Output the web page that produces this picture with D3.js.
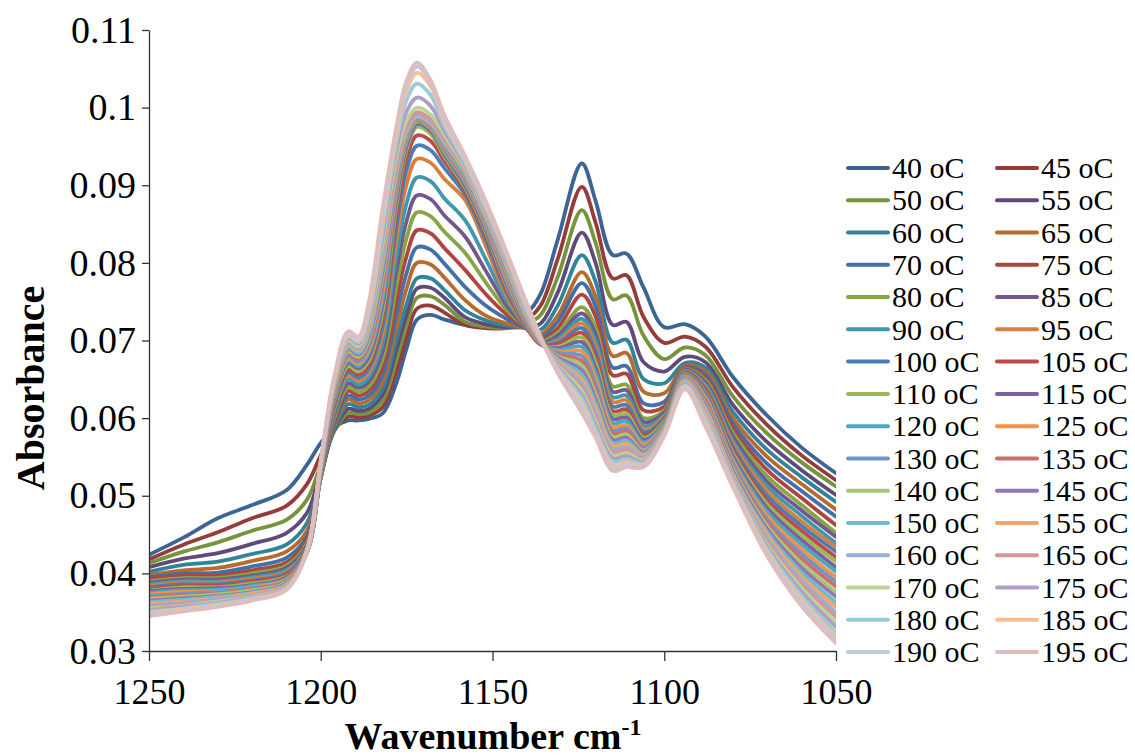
<!DOCTYPE html>
<html>
<head>
<meta charset="utf-8">
<script src="https://cdn.jsdelivr.net/npm/d3@7"></script>
<style>
  body { margin: 0; background: #fff; }
  svg { display: block; }
  text { font-family: "Liberation Serif", "Times New Roman", serif; fill: #000; }
</style>
</head>
<body>
<svg id="chart" width="1135" height="756"></svg>
<script>
// Wavenumbers (cm-1) at which each spectrum is sampled, high to low
const wavenumbers = [1250, 1240, 1230, 1220, 1210, 1204, 1200, 1196, 1192, 1189, 1186, 1182, 1178, 1175, 1172, 1168, 1164, 1158, 1152, 1146, 1140, 1136, 1131, 1124, 1120, 1115, 1111, 1106, 1100, 1094, 1088, 1080, 1070, 1060, 1050];

// Temperatures of the spectra (oC)
const temperatures = [40, 45, 50, 55, 60, 65, 70, 75, 80, 85, 90, 95, 100, 105, 110, 115, 120, 125, 130, 135, 140, 145, 150, 155, 160, 165, 170, 175, 180, 185, 190, 195];

// Absorbance per temperature
const a40  = [.0424,.0446,.0471,.0488,.0507,.0540,.0568,.0588,.0597,.0597,.0599,.0606,.0645,.0690,.0727,.0733,.0727,.0720,.0717,.0720,.0735,.0760,.0830,.0928,.0880,.0810,.0812,.0768,.0717,.0721,.0705,.0653,.0603,.0562,.0529];
const a45  = [.0418,.0437,.0453,.0471,.0487,.0515,.0552,.0585,.0602,.0601,.0603,.0614,.0660,.0705,.0741,.0745,.0736,.0720,.0716,.0716,.0727,.0745,.0805,.0898,.0852,.0780,.0784,.0730,.0697,.0705,.0692,.0640,.0591,.0552,.0520];
const a50  = [.0413,.0428,.0440,.0455,.0469,.0495,.0540,.0584,.0607,.0605,.0607,.0622,.0674,.0720,.0755,.0757,.0746,.0724,.0718,.0716,.0722,.0733,.0782,.0868,.0826,.0753,.0758,.0706,.0676,.0691,.0681,.0628,.0580,.0543,.0512];
const a55  = [.0408,.0419,.0426,.0438,.0452,.0478,.0532,.0585,.0612,.0609,.0612,.0630,.0688,.0733,.0767,.0768,.0755,.0730,.0721,.0717,.0718,.0722,.0762,.0839,.0800,.0720,.0724,.0672,.0660,.0679,.0672,.0617,.0569,.0533,.0501];
const a60  = [.0402,.0411,.0415,.0425,.0437,.0465,.0527,.0587,.0618,.0614,.0617,.0638,.0700,.0747,.0780,.0780,.0765,.0739,.0726,.0719,.0716,.0714,.0745,.0810,.0776,.0697,.0701,.0650,.0645,.0671,.0665,.0608,.0559,.0524,.0492];
const a65  = [.0398,.0404,.0407,.0416,.0428,.0455,.0524,.0590,.0624,.0619,.0623,.0647,.0716,.0767,.0800,.0798,.0781,.0752,.0732,.0722,.0715,.0708,.0732,.0788,.0757,.0680,.0684,.0634,.0632,.0667,.0660,.0600,.0550,.0515,.0482];
const a70  = [.0395,.0400,.0401,.0409,.0420,.0448,.0523,.0593,.0629,.0624,.0629,.0656,.0733,.0787,.0820,.0817,.0799,.0769,.0745,.0728,.0715,.0704,.0724,.0774,.0744,.0665,.0667,.0619,.0621,.0665,.0656,.0593,.0541,.0506,.0473];
const a75  = [.0393,.0397,.0397,.0404,.0414,.0443,.0523,.0597,.0635,.0629,.0635,.0666,.0751,.0809,.0842,.0838,.0819,.0791,.0760,.0734,.0715,.0701,.0716,.0759,.0731,.0655,.0657,.0610,.0615,.0664,.0652,.0587,.0533,.0497,.0462];
const a80  = [.0390,.0394,.0394,.0400,.0410,.0439,.0524,.0601,.0640,.0634,.0641,.0676,.0770,.0832,.0865,.0860,.0840,.0813,.0775,.0740,.0715,.0699,.0710,.0743,.0717,.0641,.0643,.0600,.0610,.0663,.0649,.0581,.0525,.0488,.0452];
const a85  = [.0388,.0392,.0392,.0397,.0407,.0436,.0525,.0605,.0645,.0639,.0647,.0686,.0789,.0854,.0887,.0882,.0861,.0834,.0790,.0746,.0715,.0697,.0706,.0735,.0708,.0634,.0636,.0595,.0607,.0662,.0646,.0576,.0518,.0481,.0447];
const a90  = [.0386,.0390,.0390,.0395,.0404,.0434,.0526,.0609,.0650,.0643,.0653,.0697,.0808,.0877,.0910,.0905,.0883,.0855,.0805,.0752,.0716,.0696,.0702,.0728,.0700,.0627,.0629,.0590,.0604,.0661,.0643,.0571,.0512,.0474,.0439];
const a95  = [.0384,.0388,.0388,.0393,.0402,.0432,.0527,.0613,.0655,.0648,.0659,.0708,.0829,.0901,.0934,.0929,.0908,.0881,.0822,.0758,.0716,.0695,.0699,.0722,.0693,.0621,.0623,.0586,.0602,.0660,.0640,.0567,.0506,.0467,.0434];
const a100 = [.0382,.0386,.0386,.0391,.0400,.0431,.0528,.0617,.0659,.0652,.0664,.0718,.0846,.0920,.0951,.0945,.0922,.0888,.0830,.0763,.0717,.0695,.0697,.0716,.0686,.0615,.0617,.0582,.0600,.0659,.0638,.0563,.0500,.0461,.0428];
const a105 = [.0380,.0384,.0384,.0389,.0398,.0430,.0529,.0620,.0663,.0656,.0669,.0728,.0860,.0935,.0964,.0957,.0931,.0893,.0836,.0767,.0718,.0695,.0695,.0710,.0679,.0609,.0611,.0578,.0598,.0658,.0636,.0559,.0494,.0455,.0421];
const a110 = [.0378,.0382,.0382,.0387,.0396,.0429,.0530,.0623,.0667,.0660,.0674,.0737,.0872,.0946,.0975,.0966,.0937,.0897,.0840,.0771,.0719,.0695,.0692,.0704,.0672,.0604,.0606,.0575,.0596,.0657,.0633,.0555,.0489,.0449,.0415];
const a115 = [.0377,.0380,.0381,.0385,.0395,.0428,.0531,.0626,.0671,.0664,.0679,.0746,.0880,.0951,.0979,.0970,.0940,.0900,.0843,.0774,.0720,.0695,.0690,.0698,.0665,.0599,.0601,.0572,.0594,.0656,.0631,.0551,.0484,.0443,.0408];
const a120 = [.0375,.0378,.0379,.0384,.0393,.0428,.0532,.0629,.0674,.0667,.0684,.0754,.0887,.0955,.0981,.0972,.0942,.0903,.0846,.0777,.0721,.0696,.0688,.0692,.0658,.0594,.0596,.0569,.0593,.0655,.0628,.0547,.0479,.0437,.0402];
const a125 = [.0373,.0376,.0377,.0382,.0392,.0427,.0533,.0631,.0677,.0670,.0688,.0762,.0892,.0958,.0983,.0974,.0944,.0905,.0848,.0780,.0722,.0696,.0686,.0686,.0651,.0589,.0591,.0566,.0591,.0654,.0626,.0544,.0474,.0431,.0395];
const a130 = [.0371,.0374,.0376,.0381,.0390,.0427,.0534,.0633,.0680,.0673,.0692,.0769,.0897,.0960,.0984,.0975,.0946,.0907,.0850,.0783,.0723,.0697,.0684,.0680,.0644,.0584,.0587,.0563,.0590,.0653,.0623,.0541,.0469,.0425,.0389];
const a135 = [.0369,.0372,.0374,.0379,.0389,.0427,.0535,.0635,.0683,.0676,.0696,.0776,.0901,.0962,.0985,.0976,.0948,.0909,.0852,.0786,.0724,.0697,.0682,.0674,.0637,.0580,.0583,.0560,.0589,.0652,.0621,.0538,.0465,.0419,.0383];
const a140 = [.0367,.0370,.0373,.0378,.0388,.0427,.0536,.0637,.0686,.0679,.0700,.0783,.0905,.0964,.0986,.0977,.0950,.0911,.0854,.0789,.0726,.0698,.0680,.0668,.0631,.0576,.0579,.0558,.0588,.0651,.0618,.0535,.0461,.0413,.0376];
const a145 = [.0365,.0368,.0371,.0376,.0387,.0427,.0537,.0639,.0689,.0682,.0704,.0790,.0909,.0966,.0987,.0978,.0952,.0913,.0856,.0792,.0727,.0698,.0678,.0662,.0625,.0572,.0575,.0556,.0587,.0650,.0616,.0532,.0457,.0407,.0370];
const a150 = [.0363,.0366,.0370,.0375,.0386,.0427,.0538,.0641,.0691,.0684,.0708,.0797,.0913,.0968,.0988,.0979,.0954,.0915,.0858,.0795,.0729,.0699,.0676,.0656,.0619,.0568,.0571,.0554,.0586,.0649,.0613,.0529,.0453,.0401,.0363];
const a155 = [.0361,.0364,.0368,.0374,.0385,.0427,.0539,.0643,.0694,.0687,.0712,.0804,.0917,.0970,.0989,.0980,.0956,.0917,.0860,.0798,.0730,.0699,.0674,.0650,.0613,.0564,.0567,.0552,.0585,.0648,.0611,.0527,.0449,.0396,.0357];
const a160 = [.0359,.0362,.0367,.0372,.0384,.0428,.0540,.0645,.0696,.0689,.0716,.0811,.0922,.0973,.0991,.0982,.0958,.0919,.0862,.0801,.0732,.0700,.0672,.0645,.0607,.0560,.0563,.0550,.0584,.0647,.0608,.0525,.0445,.0391,.0350];
const a165 = [.0357,.0360,.0365,.0371,.0383,.0428,.0540,.0646,.0698,.0691,.0720,.0818,.0928,.0977,.0994,.0985,.0961,.0921,.0864,.0804,.0734,.0700,.0670,.0640,.0601,.0556,.0559,.0548,.0583,.0646,.0606,.0523,.0441,.0386,.0344];
const a170 = [.0355,.0358,.0364,.0370,.0382,.0428,.0541,.0648,.0700,.0693,.0724,.0826,.0936,.0984,.1000,.0991,.0965,.0923,.0866,.0806,.0736,.0701,.0668,.0635,.0596,.0552,.0555,.0546,.0582,.0645,.0603,.0521,.0437,.0381,.0337];
const a175 = [.0353,.0357,.0362,.0369,.0381,.0429,.0542,.0649,.0703,.0696,.0728,.0834,.0946,.0995,.1013,.1002,.0970,.0926,.0868,.0808,.0738,.0702,.0666,.0630,.0591,.0548,.0551,.0544,.0581,.0644,.0600,.0519,.0434,.0376,.0331];
const a180 = [.0351,.0355,.0361,.0368,.0380,.0429,.0543,.0651,.0705,.0698,.0733,.0843,.0955,.1010,.1031,.1016,.0976,.0929,.0871,.0810,.0740,.0702,.0664,.0625,.0586,.0544,.0547,.0542,.0580,.0642,.0598,.0517,.0431,.0371,.0324];
const a185 = [.0349,.0354,.0359,.0367,.0380,.0430,.0543,.0652,.0707,.0700,.0738,.0852,.0963,.1022,.1045,.1027,.0982,.0932,.0874,.0812,.0743,.0703,.0662,.0619,.0581,.0540,.0543,.0540,.0579,.0641,.0595,.0515,.0428,.0366,.0318];
const a190 = [.0347,.0352,.0358,.0366,.0379,.0430,.0544,.0654,.0709,.0702,.0744,.0861,.0970,.1030,.1053,.1032,.0986,.0935,.0877,.0814,.0745,.0704,.0660,.0613,.0578,.0536,.0540,.0538,.0578,.0639,.0592,.0513,.0425,.0362,.0314];
const a195 = [.0345,.0351,.0357,.0365,.0379,.0430,.0545,.0655,.0712,.0705,.0750,.0870,.0975,.1035,.1058,.1035,.0990,.0938,.0880,.0815,.0748,.0705,.0658,.0607,.0575,.0532,.0537,.0537,.0577,.0637,.0589,.0511,.0422,.0358,.0310];

const seriesValues = [a40, a45, a50, a55, a60, a65, a70, a75, a80, a85, a90, a95, a100, a105, a110, a115,
                      a120, a125, a130, a135, a140, a145, a150, a155, a160, a165, a170, a175, a180, a185, a190, a195];

const seriesColors = [
  "#3c6495", "#963c3a", "#77933c", "#604a7b", "#31849b", "#b96b2d",
  "#4270ab", "#b0443f", "#86a644", "#73578f", "#3f98ae", "#d9813b",
  "#4a7ebb", "#be4b48", "#98b954", "#7d60a0", "#46aac5", "#f69240",
  "#7394ca", "#cb6e6c", "#a9c672", "#9279b2", "#6bbbd2", "#f8a464",
  "#98afd6", "#d49795", "#bbd29a", "#af9fc6", "#9acbdb", "#f9be94",
  "#bccadf", "#dfbdbd"
];

const yTicks = [0.03, 0.04, 0.05, 0.06, 0.07, 0.08, 0.09, 0.10, 0.11];
const yTickLabels = ["0.03", "0.04", "0.05", "0.06", "0.07", "0.08", "0.09", "0.1", "0.11"];
const xTicks = [1250, 1200, 1150, 1100, 1050];
const xTickLabels = ["1250", "1200", "1150", "1100", "1050"];

const svg = d3.select("#chart");
svg.append("rect").attr("width", 1135).attr("height", 756).attr("fill", "#fff");

const plot = { left: 149, right: 836, top: 30, bottom: 651 };

const x = d3.scaleLinear().domain([1250, 1050]).range([plot.left, plot.right]);
const y = d3.scaleLinear().domain([0.03, 0.11]).range([plot.bottom, plot.top]);

svg.append("defs").append("clipPath").attr("id", "plotClip")
  .append("rect")
  .attr("x", plot.left).attr("y", 0)
  .attr("width", plot.right - plot.left).attr("height", plot.bottom + 10);

// smoothed polyline through the sampled absorbances
const line = d3.line()
  .x((d, i) => x(wavenumbers[i]))
  .y(d => y(d))
  .curve(d3.curveCatmullRom.alpha(0.5));

// spectra, lowest temperature drawn first
svg.append("g").attr("clip-path", "url(#plotClip)")
  .selectAll("path")
  .data(seriesValues)
  .join("path")
  .attr("d", d => line(d))
  .attr("fill", "none")
  .attr("stroke", (d, i) => seriesColors[i])
  .attr("stroke-width", 3.8)
  .attr("stroke-linejoin", "round")
  .attr("stroke-linecap", "round");

// axes
const yAxis = d3.axisLeft(y)
  .tickValues(yTicks)
  .tickFormat((d, i) => yTickLabels[i])
  .tickSize(7).tickSizeOuter(0).tickPadding(6);

const xAxis = d3.axisBottom(x)
  .tickValues(xTicks)
  .tickFormat((d, i) => xTickLabels[i])
  .tickSize(10).tickSizeOuter(0).tickPadding(17);

const gy = svg.append("g").attr("transform", `translate(${plot.left},0)`).call(yAxis);
const gx = svg.append("g").attr("transform", `translate(0,${plot.bottom})`).call(xAxis);

gy.selectAll(".tick text").attr("font-size", 38);
gx.selectAll(".tick text").attr("font-size", 36);

[gx, gy].forEach(g => {
  g.select(".domain").attr("stroke", "#333").attr("stroke-width", 1.3);
  g.selectAll(".tick line").attr("stroke", "#333").attr("stroke-width", 1.3);
  g.selectAll(".tick text")
    .attr("font-family", "'Liberation Serif', 'Times New Roman', serif")
    .attr("fill", "#000");
});

// axis titles
svg.append("text")
  .attr("transform", "translate(44,388) rotate(-90)")
  .attr("text-anchor", "middle")
  .attr("font-size", 40)
  .attr("font-weight", "bold")
  .text("Absorbance");

const xTitle = svg.append("text")
  .attr("x", 493).attr("y", 749)
  .attr("text-anchor", "middle")
  .attr("font-size", 38)
  .attr("font-weight", "bold");
xTitle.append("tspan").text("Wavenumber cm");
xTitle.append("tspan").attr("font-size", 24).attr("dy", -14).text("-1");

// legend: two columns, filled row by row
const legend = svg.append("g");
const legendRowGap = 32.27;
temperatures.forEach((t, i) => {
  const col = i % 2;
  const row = Math.floor(i / 2);
  const gx0 = col === 0 ? 848 : 997;
  const gyRow = 168 + row * legendRowGap;
  legend.append("line")
    .attr("x1", gx0).attr("x2", gx0 + 40)
    .attr("y1", gyRow).attr("y2", gyRow)
    .attr("stroke", seriesColors[i])
    .attr("stroke-width", 4)
    .attr("stroke-linecap", "round");
  legend.append("text")
    .attr("x", gx0 + 44).attr("y", gyRow)
    .attr("dy", "0.34em")
    .attr("font-size", 30)
    .text(`${t} oC`);
});
</script>
</body>
</html>
